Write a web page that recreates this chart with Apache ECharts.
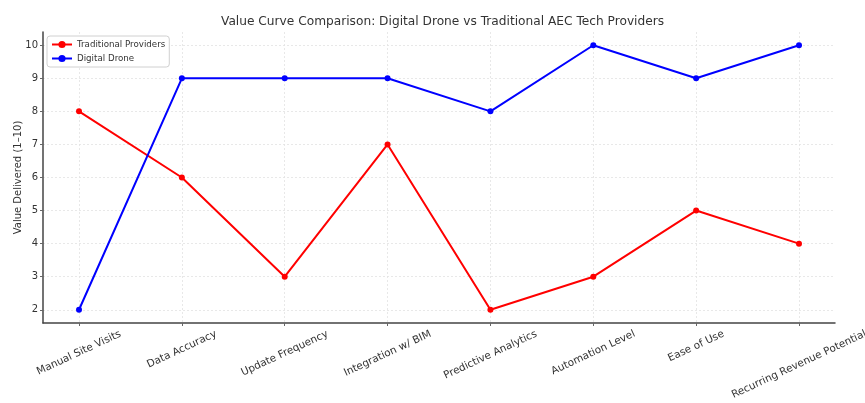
<!DOCTYPE html>
<html>
<head>
<meta charset="utf-8">
<script src="https://cdn.jsdelivr.net/npm/echarts@6/dist/echarts.min.js"></script>
<style>
  html, body { margin: 0; padding: 0; background: #fff; }
  #chart { width: 865px; height: 403px; }
</style>
</head>
<body>
<div id="chart"></div>
<script>
// Value curve: score per factor for each provider type
const factors = [
  'Manual Site Visits', 'Data Accuracy', 'Update Frequency', 'Integration w/ BIM',
  'Predictive Analytics', 'Automation Level', 'Ease of Use', 'Recurring Revenue Potential'
];
const traditionalScores = [8, 6, 3, 7, 2, 3, 5, 4];
const droneScores = [2, 9, 9, 9, 8, 10, 9, 10];
const yTicks = [2, 3, 4, 5, 6, 7, 8, 9, 10];

const FONT = 'DejaVu Sans';
const LABEL_SIZE = 10.4;
const ROT = 25;

// Rotated category labels are centred under their tick with the top of each
// rotated box on a common line; per-label padding shifts each one straight down.
const ctx = document.createElement('canvas').getContext('2d');
ctx.font = LABEL_SIZE + 'px "' + FONT + '"';
const th = ROT * Math.PI / 180;
const lineH = 12;
const halfH = factors.map(f => (ctx.measureText(f).width * Math.sin(th) + lineH * Math.cos(th)) / 2);
const minHalf = Math.min(...halfH);
const rich = {};
factors.forEach((f, i) => {
  const d = halfH[i] - minHalf;
  rich['l' + i] = {
    fontFamily: FONT, fontSize: LABEL_SIZE, color: '#333', lineHeight: lineH,
    padding: [2 * d * Math.cos(th), 2 * d * Math.sin(th), 0, 0]
  };
});

const xIdx = factors.map((_, i) => i);
const toPoints = arr => arr.map((v, i) => [i, v]);

const chart = echarts.init(document.getElementById('chart'), null, { renderer: 'canvas' });
chart.setOption({
  animation: false,
  backgroundColor: '#fff',
  textStyle: { fontFamily: FONT },
  title: {
    text: 'Value Curve Comparison: Digital Drone vs Traditional AEC Tech Providers',
    left: 216, top: 11,
    textStyle: { fontFamily: FONT, fontSize: 12.2, fontWeight: 'normal', color: '#333' }
  },
  legend: {
    orient: 'vertical',
    left: 47, top: 36,
    padding: [4, 4, 4, 4],
    itemGap: 5,
    itemWidth: 20, itemHeight: 9,
    backgroundColor: '#fff',
    borderColor: '#d0d0d0', borderWidth: 1, borderRadius: 3,
    textStyle: { fontFamily: FONT, fontSize: 8.7, color: '#333' },
    data: ['Traditional Providers', 'Digital Drone']
  },
  grid: { left: 43, right: 30, top: 32, bottom: 80, containLabel: false, outerBoundsMode: 'none' },
  xAxis: {
    type: 'value',
    min: -0.35, max: 7.35,
    axisLine: { show: true, onZero: false, lineStyle: { color: '#444', width: 1.5 } },
    axisTick: { show: true, length: 3, customValues: xIdx, lineStyle: { color: '#666' } },
    splitLine: { show: true, lineStyle: { color: '#e2e2e2', type: [2, 2], width: 0.8 } },
    axisLabel: {
      customValues: xIdx,
      rotate: ROT,
      align: 'center',
      verticalAlign: 'middle',
      margin: 5 + minHalf,
      formatter: (v) => {
        const i = Math.round(v);
        return '{l' + i + '|' + factors[i] + '}';
      },
      rich: rich
    }
  },
  yAxis: {
    type: 'value',
    min: 1.6, max: 10.4,
    name: 'Value Delivered (1–10)',
    nameLocation: 'middle',
    nameGap: 20,
    nameMoveOverlap: false,
    nameTextStyle: { fontFamily: FONT, fontSize: 10, color: '#333' },
    axisLine: { show: true, onZero: false, lineStyle: { color: '#444', width: 1.5 } },
    axisTick: { show: true, length: 3, customValues: yTicks, lineStyle: { color: '#666' } },
    splitLine: { show: true, lineStyle: { color: '#e2e2e2', type: [2, 2], width: 0.8 } },
    axisLabel: {
      customValues: yTicks,
      margin: 5,
      fontFamily: FONT, fontSize: 10, color: '#333'
    }
  },
  series: [
    {
      name: 'Traditional Providers',
      type: 'line',
      data: toPoints(traditionalScores),
      color: '#ff0000',
      symbol: 'circle', symbolSize: 6,
      lineStyle: { width: 2, color: '#ff0000' },
      itemStyle: { color: '#ff0000' }
    },
    {
      name: 'Digital Drone',
      type: 'line',
      data: toPoints(droneScores),
      color: '#0000ff',
      symbol: 'circle', symbolSize: 6,
      lineStyle: { width: 2, color: '#0000ff' },
      itemStyle: { color: '#0000ff' }
    }
  ]
});
</script>
</body>
</html>
